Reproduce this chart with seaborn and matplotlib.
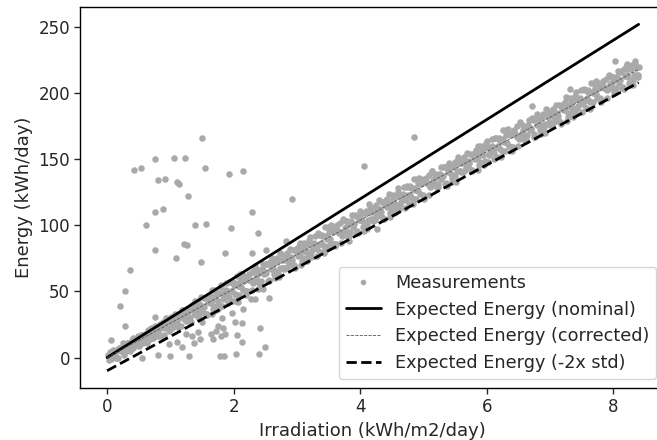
import matplotlib
matplotlib.use("Agg")
import matplotlib.pyplot as plt
from matplotlib.lines import Line2D
import seaborn as sns
import pandas as pd

# Measurement band (irradiation kWh/m2/day, energy kWh/day) - three interleaved readings
band_x = [0.02,0.055,0.09,0.125,0.16,0.195,0.23,0.265,0.30,0.335,0.37,0.405,0.44,0.475,0.51,0.545,0.58,0.615,0.65,0.685,
          0.72,0.755,0.79,0.825,0.86,0.895,0.93,0.965,1.00,1.035,1.07,1.105,1.14,1.175,1.21,1.245,1.28,1.315,1.35,1.385,
          1.42,1.455,1.49,1.525,1.56,1.595,1.63,1.665,1.70,1.735,1.77,1.805,1.84,1.875,1.91,1.945,1.98,2.015,2.05,2.085,
          2.12,2.155,2.19,2.225,2.26,2.295,2.33,2.365,2.40,2.435,2.47,2.505,2.54,2.575,2.61,2.645,2.68,2.715,2.75,2.785,
          2.82,2.855,2.89,2.925,2.96,2.995,3.03,3.065,3.10,3.135,3.17,3.205,3.24,3.275,3.31,3.345,3.38,3.415,3.45,3.485,
          3.52,3.555,3.59,3.625,3.66,3.695,3.73,3.765,3.80,3.835,3.87,3.905,3.94,3.975,4.01,4.045,4.08,4.115,4.15,4.185,
          4.22,4.255,4.29,4.325,4.36,4.395,4.43,4.465,4.50,4.535,4.57,4.605,4.64,4.675,4.71,4.745,4.78,4.815,4.85,4.885,
          4.92,4.955,4.99,5.025,5.06,5.095,5.13,5.165,5.20,5.235,5.27,5.305,5.34,5.375,5.41,5.445,5.48,5.515,5.55,5.585,
          5.62,5.655,5.69,5.725,5.76,5.795,5.83,5.865,5.90,5.935,5.97,6.005,6.04,6.075,6.11,6.145,6.18,6.215,6.25,6.285,
          6.32,6.355,6.39,6.425,6.46,6.495,6.53,6.565,6.60,6.635,6.67,6.705,6.74,6.775,6.81,6.845,6.88,6.915,6.95,6.985,
          7.02,7.055,7.09,7.125,7.16,7.195,7.23,7.265,7.30,7.335,7.37,7.405,7.44,7.475,7.51,7.545,7.58,7.615,7.65,7.685,
          7.72,7.755,7.79,7.825,7.86,7.895,7.93,7.965,8.00,8.035,8.07,8.105,8.14,8.175,8.21,8.245,8.28,8.315,8.35,8.385]
band_y = [2,-1,6,2,0,6,8,2,8,11,7,15,10,13,9,17,15,14,21,14,
          17,24,16,24,22,17,30,23,27,23,33,28,24,34,32,28,35,27,39,33,
          40,33,46,38,33,42,47,33,44,49,40,55,45,51,41,57,50,48,62,47,
          53,62,50,62,59,51,69,58,64,58,71,64,58,72,69,63,73,61,78,68,
          76,69,82,74,69,79,84,70,81,86,76,91,81,87,77,93,87,85,99,84,
          90,98,86,98,95,87,105,95,101,95,108,101,94,108,105,99,109,97,114,105,
          113,106,119,110,105,115,120,106,117,122,113,128,118,124,113,129,123,121,135,120,
          126,135,123,135,132,123,141,131,137,131,144,137,131,145,142,136,145,133,150,141,
          149,142,155,147,142,152,157,142,153,158,149,164,154,160,150,166,160,158,172,156,
          162,171,159,171,168,160,178,168,174,168,180,173,167,181,178,172,182,170,187,178,
          186,178,191,183,178,188,193,179,190,195,186,201,190,196,186,202,196,194,208,193,
          199,208,196,207,204,196,214,204,210,204,217,210,204,218,214,208,218,206,223,214]

band2_x = [0.032,0.067,0.102,0.137,0.172,0.207,0.242,0.277,0.312,0.347,0.382,0.417,0.452,0.487,0.522,0.557,0.592,0.627,0.662,0.697,
           0.732,0.767,0.802,0.837,0.872,0.907,0.942,0.977,1.012,1.047,1.082,1.117,1.152,1.187,1.222,1.257,1.292,1.327,1.362,1.397,
           1.432,1.467,1.502,1.537,1.572,1.607,1.642,1.677,1.712,1.747,1.782,1.817,1.852,1.887,1.922,1.957,1.992,2.027,2.062,2.097,
           2.132,2.167,2.202,2.237,2.272,2.307,2.342,2.377,2.412,2.447,2.482,2.517,2.552,2.587,2.622,2.657,2.692,2.727,2.762,2.797,
           2.832,2.867,2.902,2.937,2.972,3.007,3.042,3.077,3.112,3.147,3.182,3.217,3.252,3.287,3.322,3.357,3.392,3.427,3.462,3.497,
           3.532,3.567,3.602,3.637,3.672,3.707,3.742,3.777,3.812,3.847,3.882,3.917,3.952,3.987,4.022,4.057,4.092,4.127,4.162,4.197,
           4.232,4.267,4.302,4.337,4.372,4.407,4.442,4.477,4.512,4.547,4.582,4.617,4.652,4.687,4.722,4.757,4.792,4.827,4.862,4.897,
           4.932,4.967,5.002,5.037,5.072,5.107,5.142,5.177,5.212,5.247,5.282,5.317,5.352,5.387,5.422,5.457,5.492,5.527,5.562,5.597,
           5.632,5.667,5.702,5.737,5.772,5.807,5.842,5.877,5.912,5.947,5.982,6.017,6.052,6.087,6.122,6.157,6.192,6.227,6.262,6.297,
           6.332,6.367,6.402,6.437,6.472,6.507,6.542,6.577,6.612,6.647,6.682,6.717,6.752,6.787,6.822,6.857,6.892,6.927,6.962,6.997,
           7.032,7.067,7.102,7.137,7.172,7.207,7.242,7.277,7.312,7.347,7.382,7.417,7.452,7.487,7.522,7.557,7.592,7.627,7.662,7.697,
           7.732,7.767,7.802,7.837,7.872,7.907,7.942,7.977,8.012,8.047,8.082,8.117,8.152,8.187,8.222,8.257,8.292,8.327,8.362,8.397]
band2_y = [-2,3,1,6,0,7,6,4,11,8,11,7,12,16,12,14,18,11,18,22,
           15,21,19,25,16,26,24,20,31,26,30,23,31,36,29,32,37,27,37,42,
           31,40,36,45,32,46,43,37,51,43,49,39,49,56,46,50,57,43,56,63,
           63,58,47,63,58,56,68,63,55,67,63,71,59,67,72,60,75,68,74,67,
           68,77,72,81,68,82,79,73,87,80,86,76,86,92,82,86,93,79,92,99,
           100,95,84,100,94,92,104,99,91,103,99,108,96,104,109,96,111,104,110,103,
           104,113,109,118,105,119,115,109,123,116,122,112,122,129,119,123,130,116,128,135,
           136,131,120,136,131,129,141,136,128,139,135,144,132,140,145,133,148,141,147,140,
           140,149,145,154,141,155,152,146,160,153,159,148,158,165,155,159,166,152,165,172,
           173,168,156,172,167,165,177,172,164,176,172,181,169,176,181,169,184,177,183,176,
           177,186,182,191,177,191,188,182,196,189,195,185,195,202,192,195,202,188,201,208,
           209,204,193,209,204,202,213,208,200,212,208,217,205,213,218,206,221,214,219,212]

band3_x = [0.044,0.079,0.114,0.149,0.184,0.219,0.254,0.289,0.324,0.359,0.394,0.429,0.464,0.499,0.534,0.569,0.604,0.639,0.674,0.709,
           0.744,0.779,0.814,0.849,0.884,0.919,0.954,0.989,1.024,1.059,1.094,1.129,1.164,1.199,1.234,1.269,1.304,1.339,1.374,1.409,
           1.444,1.479,1.514,1.549,1.584,1.619,1.654,1.689,1.724,1.759,1.794,1.829,1.864,1.899,1.934,1.969,2.004,2.039,2.074,2.109,
           2.144,2.179,2.214,2.249,2.284,2.319,2.354,2.389,2.424,2.459,2.494,2.529,2.564,2.599,2.634,2.669,2.704,2.739,2.774,2.809,
           2.844,2.879,2.914,2.949,2.984,3.019,3.054,3.089,3.124,3.159,3.194,3.229,3.264,3.299,3.334,3.369,3.404,3.439,3.474,3.509,
           3.544,3.579,3.614,3.649,3.684,3.719,3.754,3.789,3.824,3.859,3.894,3.929,3.964,3.999,4.034,4.069,4.104,4.139,4.174,4.209,
           4.244,4.279,4.314,4.349,4.384,4.419,4.454,4.489,4.524,4.559,4.594,4.629,4.664,4.699,4.734,4.769,4.804,4.839,4.874,4.909,
           4.944,4.979,5.014,5.049,5.084,5.119,5.154,5.189,5.224,5.259,5.294,5.329,5.364,5.399,5.434,5.469,5.504,5.539,5.574,5.609,
           5.644,5.679,5.714,5.749,5.784,5.819,5.854,5.889,5.924,5.959,5.994,6.029,6.064,6.099,6.134,6.169,6.204,6.239,6.274,6.309,
           6.344,6.379,6.414,6.449,6.484,6.519,6.554,6.589,6.624,6.659,6.694,6.729,6.764,6.799,6.834,6.869,6.904,6.939,6.974,7.009,
           7.044,7.079,7.114,7.149,7.184,7.219,7.254,7.289,7.324,7.359,7.394,7.429,7.464,7.499,7.534,7.569,7.604,7.639,7.674,7.709,
           7.744,7.779,7.814,7.849,7.884,7.919,7.954,7.989,8.024,8.059,8.094,8.129,8.164,8.199,8.234,8.269,8.304,8.339,8.374,8.409]
band3_y = [4,1,3,0,7,5,11,5,9,5,13,9,13,12,17,11,17,14,18,20,
           16,22,16,23,27,22,25,29,22,29,28,33,24,36,31,35,30,40,33,37,
           43,35,39,33,45,41,51,39,47,37,53,44,49,47,57,43,55,47,54,59,
           51,60,50,59,65,57,61,66,56,66,64,71,58,75,66,72,64,79,68,74,
           79,72,76,70,82,77,87,75,83,73,89,80,86,84,94,80,92,83,90,95,
           87,96,86,96,102,94,98,103,92,102,100,107,94,111,103,109,101,116,105,110,
           115,108,112,106,118,114,124,112,120,110,125,116,122,120,130,116,128,120,127,132,
           124,132,122,132,138,130,134,139,129,139,137,144,130,147,139,145,137,152,141,147,
           152,145,149,142,154,150,160,148,156,146,162,153,159,157,166,152,164,156,163,168,
           160,169,159,169,175,166,170,175,165,175,173,180,167,184,176,182,174,188,177,183,
           188,181,185,179,191,187,197,185,192,182,198,189,195,193,203,189,201,193,200,204,
           196,205,195,205,211,203,207,212,202,212,209,216,203,220,212,218,210,224,214,220]

# Scattered measurements away from the band
out_x = [1.50,0.75,1.05,1.23,0.42,0.54,1.54,1.93,2.15,0.80,0.92,1.11,1.13,1.28,2.93,0.75,0.88,2.29,0.62,1.39,
         1.56,1.96,2.38,1.22,1.26,0.75,1.09,1.48,1.86,2.29,2.51,0.37,0.29,0.20,0.28,0.07,0.75,1.39,2.27,2.33,
         2.56,2.39,2.47,2.07,2.15,1.97,2.02,2.14,2.41,2.13,2.50,2.40,2.03,1.84,1.78,1.29,1.00,0.81,0.55,1.86,
         1.80,1.72,1.68,1.65,1.25,1.35,1.43,1.47,1.38,1.10,1.18,2.05,0.98,1.50,1.58,1.72,1.82,1.75,1.83,1.46,
         1.49,4.85,4.06,4.54,4.26,3.83,2.83,6.72,7.31,8.03,8.22]
out_y = [166,150,151,151,142,143,143,139,141,134,135,133,131,122,120,110,112,110,100,100,
         101,98,94,86,85,81,75,72,79,79,81,66,50,39,24,13,31,43,44,44,
         45,52,52,42,37,34,27,26,22,12,8,3,3,1,1.5,1,1,2,0,18,
         16,20,14,18,18,16,19,14,11,12,8,17,10,27,33,36,30,24,22,30,
         35,167,145,109,97,88,88,190,203,224,222]

# Expected-energy lines
line_x = [0.0, 8.4]
nominal_y = [0.0, 252.0]
corrected_y = [0.0, 218.0]
lower_y = [-10.0, 208.0]

meas = pd.DataFrame({"irr": band_x + band2_x + band3_x + out_x,
                     "energy": band_y + band2_y + band3_y + out_y})

sns.set_style("ticks")
plt.rcParams["font.family"] = ["DejaVu Sans"]
plt.rcParams["font.size"] = 12

fig = plt.figure(figsize=(6.57, 4.4), dpi=100)
ax = fig.add_axes([0.1225, 0.118, 0.89, 0.866])

sns.scatterplot(data=meas, x="irr", y="energy", ax=ax, color="darkgray",
                s=22, linewidth=0, legend=False, zorder=2)
sns.lineplot(x=line_x, y=nominal_y, ax=ax, color="black", linewidth=2, zorder=3)
sns.lineplot(x=line_x, y=corrected_y, ax=ax, color="#555555", linewidth=0.6,
             linestyle="--", zorder=3)
sns.lineplot(x=line_x, y=lower_y, ax=ax, color="black", linewidth=2,
             linestyle="--", zorder=3)

ax.set_xlim(-0.42, 8.82)
ax.set_ylim(-23.1, 265.1)
ax.set_xticks([0, 2, 4, 6, 8])
ax.set_yticks([0, 50, 100, 150, 200, 250])
ax.tick_params(labelsize=12, length=4, width=1, direction="out")
for name, sp in ax.spines.items():
    sp.set_visible(name != "right")
    sp.set_linewidth(1.0)
    sp.set_color("black")
ax.set_xlabel("Irradiation (kWh/m2/day)", fontsize=13)
ax.set_ylabel("Energy (kWh/day)", fontsize=13)

handles = [
    Line2D([], [], marker="o", linestyle="none", color="darkgray", markersize=4, markeredgewidth=0),
    Line2D([], [], color="black", linewidth=2),
    Line2D([], [], color="#555555", linewidth=0.6, linestyle="--"),
    Line2D([], [], color="black", linewidth=2, linestyle="--"),
]
labels = ["Measurements", "Expected Energy (nominal)", "Expected Energy (corrected)",
          "Expected Energy (-2x std)"]
ax.legend(handles, labels, loc="lower right", fontsize=12.7, frameon=True)

fig.savefig("out.png", dpi=100)
